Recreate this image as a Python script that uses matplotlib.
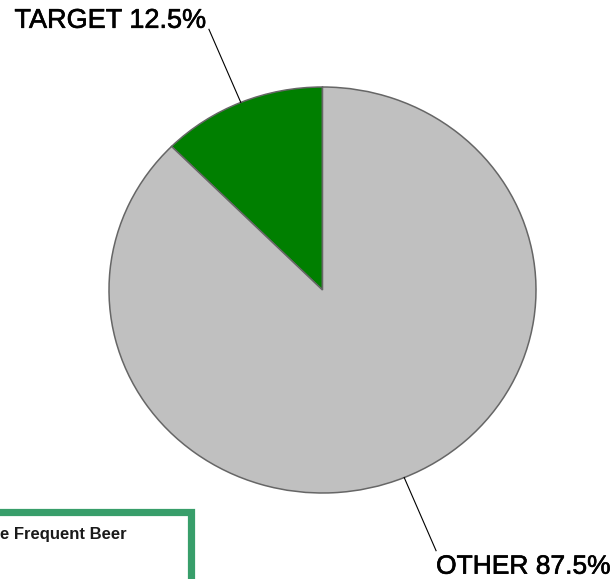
import matplotlib
matplotlib.use("Agg")
import matplotlib.pyplot as plt
from matplotlib.patches import Rectangle
import matplotlib.patheffects as pe
import numpy as np

labels = ["TARGET", "OTHER"]
values = [12.5, 87.5]
colors = ["#007F00", "#C0C0C0"]
legend_text = "e Frequent Beer"

W, H = 615, 579
fig = plt.figure(figsize=(W / 100, H / 100), dpi=100)
plt.rcParams["font.family"] = ["Liberation Sans", "DejaVu Sans"]

# pie axes (slightly elliptical, as in reference)
cx, cy, rx, ry = 322.5, 290, 213.5, 203
ax = fig.add_axes([(cx - rx) / W, (H - cy - ry) / H, 2 * rx / W, 2 * ry / H])
wedges, _ = ax.pie(values, colors=colors, startangle=90, counterclock=True,
                   radius=1, wedgeprops=dict(edgecolor="#666666", linewidth=1.1))
ax.set_xlim(-1, 1)
ax.set_ylim(-1, 1)
ax.set_aspect("auto")
ax.axis("off")

stroke = [pe.withStroke(linewidth=0.45, foreground="black")]
for w, lab, val in zip(wedges, labels, values):
    mid = np.deg2rad((w.theta1 + w.theta2) / 2)
    x0, y0 = np.cos(mid), np.sin(mid)
    x1, y1 = 1.39 * x0, 1.39 * y0
    ax.plot([x0, x1], [y0, y1], color="black", lw=0.8, clip_on=False)
    if y0 > 0:
        ax.annotate(f"{lab} {val}%", (x1, y1), xytext=(-2, 1.5),
                    textcoords="offset pixels", ha="right", va="baseline",
                    fontsize=19.5, color="black", annotation_clip=False,
                    path_effects=stroke)
    else:
        ax.annotate(f"{lab} {val}%", (x1, y1), xytext=(0, -23),
                    textcoords="offset pixels", ha="left", va="baseline",
                    fontsize=19, color="black", annotation_clip=False,
                    path_effects=stroke)

# overlay in pixel coords for the cropped legend box
ov = fig.add_axes([0, 0, 1, 1])
ov.set_xlim(0, W)
ov.set_ylim(H, 0)
ov.axis("off")
ov.add_patch(Rectangle((-20, 511.5), 210.5, 100, fill=False,
                       edgecolor="#389E6A", linewidth=5.2))
ov.text(0, 539, legend_text, ha="left", va="baseline", fontsize=12,
        fontweight="bold", color="#1A1A1A")

fig.savefig("out.png", dpi=100)
